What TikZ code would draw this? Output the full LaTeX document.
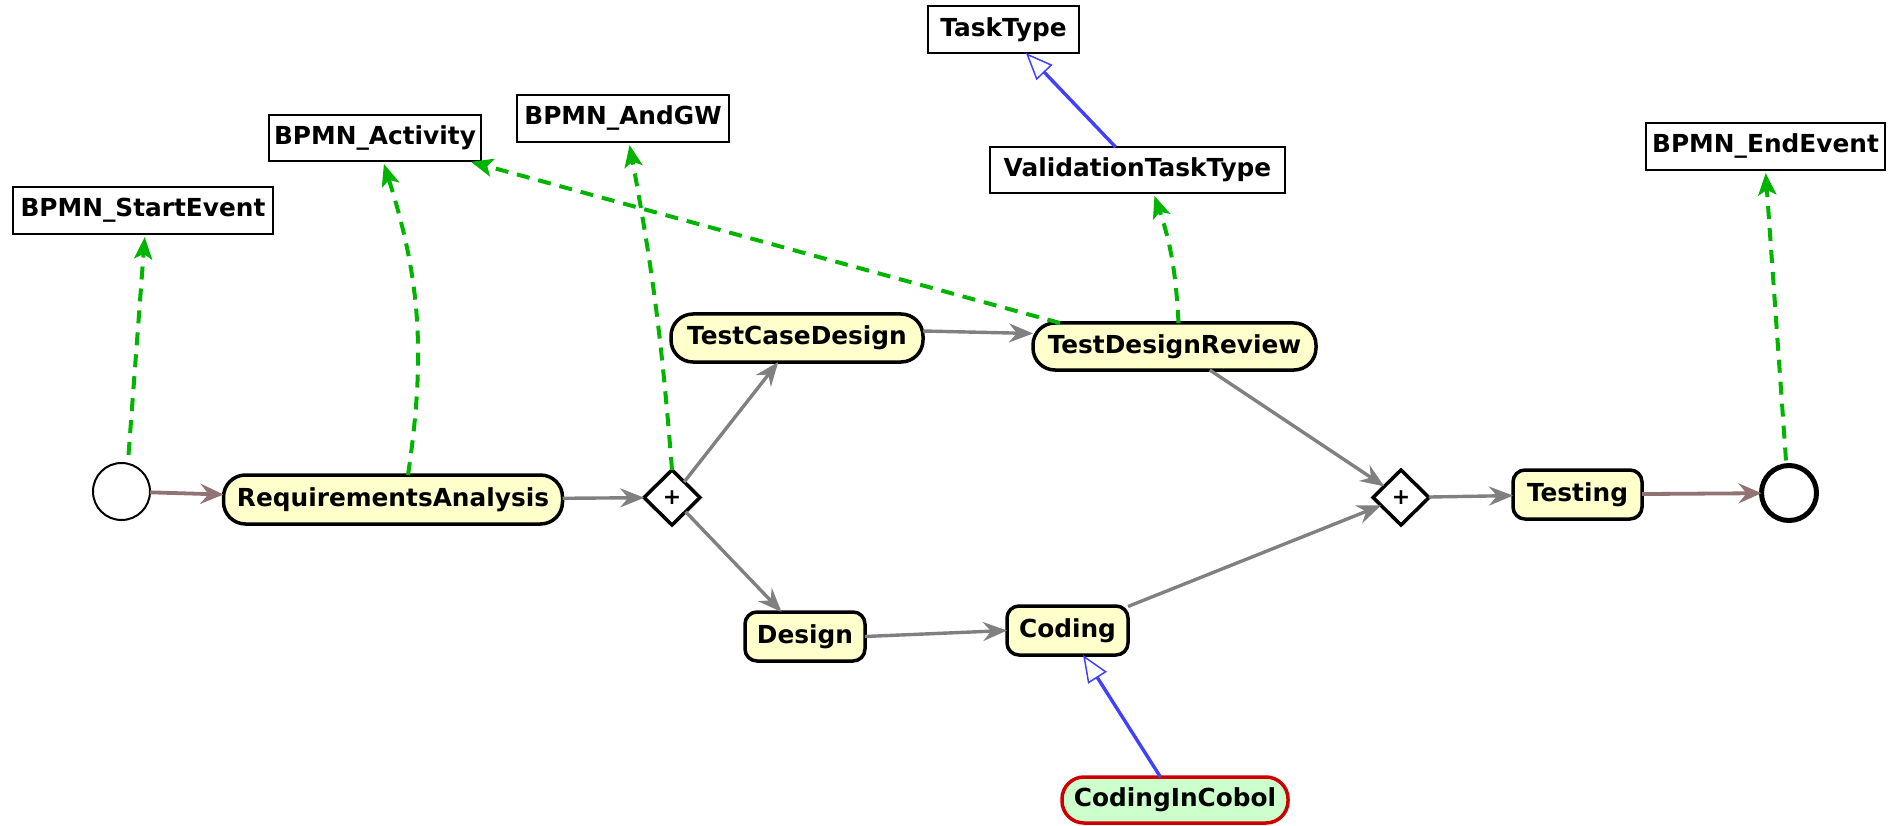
\documentclass[tikz,border=0pt]{standalone}
\usepackage{fontspec}
\setmainfont{DejaVu Sans}
\usetikzlibrary{arrows.meta,shapes.geometric}
\definecolor{taskfill}{RGB}{255,255,204}
\definecolor{cicfill}{RGB}{204,255,204}
\definecolor{cicdraw}{RGB}{204,0,0}
\definecolor{flowgray}{RGB}{128,128,128}
\definecolor{flowbrown}{RGB}{145,115,115}
\definecolor{depgreen}{RGB}{0,180,0}
\definecolor{inhblue}{RGB}{64,64,255}
\begin{document}
\begin{tikzpicture}[x=1pt,y=-1pt,
  every node/.style={font=\fontsize{24.8}{29}\selectfont\bfseries, inner sep=0pt, outer sep=0pt},
  typebox/.style={draw=black, line width=1.8pt, fill=white, rectangle},
  task/.style={draw=black, line width=3.5pt, fill=taskfill, rectangle, rounded corners=#1},
  task/.default=12pt,
  cictask/.style={draw=cicdraw, line width=3.5pt, fill=cicfill, rectangle, rounded corners=22pt},
  gateway/.style={draw=black, line width=3.5pt, fill=white, diamond, shape aspect=1, minimum width=56pt, minimum height=55pt, font=\fontsize{22}{24}\selectfont\bfseries},
  startev/.style={draw=black, line width=2pt, fill=white, circle, minimum size=57pt},
  endev/.style={draw=black, line width=5pt, fill=white, circle, minimum size=55pt},
  grayflow/.style={draw=flowgray, line width=3.4pt, -{Stealth[length=24pt,width=19pt,inset=8pt]}},
  brownflow/.style={draw=flowbrown, line width=3.8pt, -{Stealth[length=23pt,width=20pt,inset=8pt]}},
  dep/.style={draw=depgreen, line width=4pt, dash pattern=on 13pt off 9pt, shorten >=3pt, -{Stealth[length=22pt,width=18pt,inset=5pt]}},
  inh/.style={draw=inhblue, line width=3.4pt, -{Triangle[length=27pt,width=22pt,fill=white,line width=1.5pt]}}
]
\useasboundingbox (0,0) rectangle (1893,826);

% type boxes
\node[typebox, minimum width=260pt, minimum height=47pt] (seBox) at (143,210.5) {BPMN\_StartEvent};
\node[typebox, minimum width=212pt, minimum height=46pt] (actBox) at (375,138) {BPMN\_Activity};
\node[typebox, minimum width=212pt, minimum height=47pt] (gwBox) at (623,118.5) {BPMN\_AndGW};
\node[typebox, minimum width=151pt, minimum height=47pt] (ttBox) at (1003.5,29.5) {TaskType};
\node[typebox, minimum width=295pt, minimum height=46pt] (vttBox) at (1137.5,170) {ValidationTaskType};
\node[typebox, minimum width=239pt, minimum height=47pt] (eeBox) at (1765.5,146.5) {BPMN\_EndEvent};

% process nodes
\node[startev] (start) at (121.5,491.5) {};
\node[task=22pt, minimum width=339pt, minimum height=49pt] (RA) at (393,499.5) {RequirementsAnalysis};
\node[gateway] (gw1) at (672,497.5) {+};
\node[task=22pt, minimum width=252pt, minimum height=48pt] (TCD) at (797,338) {TestCaseDesign};
\node[task=22pt, minimum width=283pt, minimum height=47pt] (TDR) at (1174.5,346.5) {TestDesignReview};
\node[task, minimum width=120pt, minimum height=49pt] (Design) at (805,636.5) {Design};
\node[task, minimum width=121pt, minimum height=49pt] (Coding) at (1067.5,630.5) {Coding};
\node[cictask, minimum width=226pt, minimum height=46pt] (CIC) at (1175,800) {CodingInCobol};
\node[gateway] (gw2) at (1401,497.5) {+};
\node[task, minimum width=129pt, minimum height=49pt] (Testing) at (1577.5,494.5) {Testing};
\node[endev] (end) at (1789,493) {};

% sequence flows
\draw[brownflow] (start) -- (RA);
\draw[grayflow] (RA) -- (gw1);
\draw[grayflow] (gw1) -- (TCD);
\draw[grayflow] (gw1) -- (Design);
\draw[grayflow] ([yshift=7pt]TCD.east) -- ([yshift=13pt]TDR.west);
\draw[grayflow] (Design.east) -- (Coding.west);
\draw[grayflow] (TDR) -- (gw2);
\draw[grayflow] (Coding) -- (gw2);
\draw[grayflow] (gw2) -- (Testing);
\draw[brownflow] (Testing) -- (end);

% inheritance
\draw[inh] (CIC) -- (Coding);
\draw[inh] (vttBox) -- (ttBox);

% typing dependencies
\draw[dep] ([xshift=7pt,yshift=8pt]start.north) -- ([xshift=2pt]seBox.south);
\draw[dep] ([xshift=15pt]RA.north) to[bend right=13] ([xshift=8pt]actBox.south);
\draw[dep] (gw1.north) to[bend right=3] ([xshift=6pt]gwBox.south);
\draw[dep] ([xshift=27pt]TDR.north west) -- ([xshift=-13pt]actBox.south east);
\draw[dep] ([xshift=4pt]TDR.north) to[bend right=8] ([xshift=16pt]vttBox.south);
\draw[dep] ([xshift=-3pt,yshift=5pt]end.north) -- (eeBox.south);
\end{tikzpicture}
\end{document}
